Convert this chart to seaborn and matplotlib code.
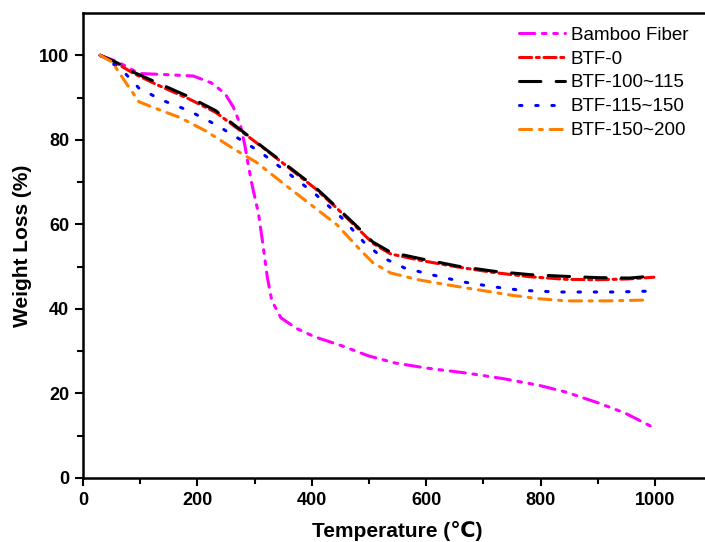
import numpy as np
import pandas as pd
import matplotlib
matplotlib.use("Agg")
import matplotlib.pyplot as plt
import seaborn as sns
from matplotlib import font_manager

# ---- data ----
bamboo_T = [30, 60, 98, 150, 193, 224, 248, 263, 275, 283, 287, 295, 307, 314, 322, 330, 346, 373, 405, 452, 499, 546, 601, 672, 735, 798, 845, 900, 947, 995]
bamboo_W = [100, 98.5, 95.7, 95.4, 95.1, 93.5, 91.0, 87.7, 83.6, 78.7, 75.5, 69.7, 62.4, 55.8, 47.7, 42.0, 37.9, 35.4, 33.4, 31.3, 28.9, 27.2, 26.0, 24.8, 23.5, 21.9, 20.3, 17.8, 15.4, 12.1]

btf0_T = [30, 60, 90, 130, 185, 232, 279, 318, 358, 405, 444, 476, 507, 538, 593, 656, 719, 782, 845, 900, 955, 998]
btf0_W = [100, 98.0, 95.6, 93.0, 89.7, 86.5, 81.8, 77.8, 73.6, 68.6, 63.8, 59.6, 55.5, 53.0, 51.4, 49.9, 48.6, 47.6, 47.0, 46.9, 47.1, 47.5]

btf100_T = [30, 60, 90, 130, 185, 232, 279, 318, 358, 405, 444, 476, 507, 538, 593, 656, 719, 782, 845, 900, 955, 998]
btf100_W = [100, 98.2, 95.9, 93.5, 90.2, 86.9, 82.0, 77.9, 73.8, 68.9, 64.0, 59.9, 55.8, 53.4, 51.8, 50.1, 48.9, 48.1, 47.7, 47.4, 47.3, 47.8]

btf115_T = [30, 67, 98, 138, 185, 232, 271, 310, 358, 405, 452, 491, 523, 562, 609, 664, 719, 767, 829, 877, 930, 987]
btf115_W = [100, 96.7, 92.2, 89.4, 86.9, 83.6, 80.4, 77.1, 72.2, 67.3, 61.6, 55.8, 52.2, 49.7, 48.1, 46.4, 45.2, 44.4, 44.0, 44.0, 44.0, 44.2]

btf150_T = [30, 51, 75, 98, 122, 169, 216, 263, 303, 350, 397, 444, 483, 507, 538, 586, 641, 696, 751, 798, 845, 916, 987]
btf150_W = [100, 98.4, 93.5, 89.0, 87.7, 85.3, 82.0, 77.9, 74.7, 69.7, 64.8, 59.9, 54.2, 50.9, 48.5, 46.9, 45.6, 44.4, 43.2, 42.4, 41.9, 41.9, 42.1]

labels = ["Bamboo Fiber", "BTF-0", "BTF-100~115", "BTF-115~150", "BTF-150~200"]
x_ticks = [0, 200, 400, 600, 800, 1000]
y_ticks = [0, 20, 40, 60, 80, 100]

series = [(bamboo_T, bamboo_W), (btf0_T, btf0_W), (btf100_T, btf100_W),
          (btf115_T, btf115_W), (btf150_T, btf150_W)]
colors = ["#ff00ff", "#ff0000", "#000000", "#0000ff", "#ff8000"]
styles = [(0, (5, 2.5, 1.2, 2.5, 1.2, 2.5)),
          (0, (4, 1.5, 1, 1.5)),
          (0, (7, 5)),
          (0, (0.8, 4.5)),
          (0, (4, 2.5, 1, 2.5))]

sns.set_style("ticks")
plt.rcParams['font.family'] = ['Liberation Sans', 'DejaVu Sans']
plt.rcParams.update({'text.color': 'black', 'axes.labelcolor': 'black',
                     'xtick.color': 'black', 'ytick.color': 'black',
                     'axes.edgecolor': 'black'})

names = {f.name for f in font_manager.fontManager.ttflist}
narrow = 'Liberation Sans Narrow' if 'Liberation Sans Narrow' in names else 'Liberation Sans'

fig = plt.figure(figsize=(7.05, 5.42), dpi=100)
W, H = 705, 542
x0, x1 = 83, 83 + 572 * 1.1
y0, y1 = 478, 478 - 4.227 * 110
ax = fig.add_axes([x0 / W, (H - y0) / H, (x1 - x0) / W, (y0 - y1) / H])

for (t, w), lab, c, ls in zip(series, labels, colors, styles):
    df = pd.DataFrame({"T": t, "W": w})
    sns.lineplot(data=df, x="T", y="W", ax=ax, color=c, label=lab,
                 linestyle=ls, linewidth=2.2, sort=False)
for ln in ax.lines:
    ln.set_dash_capstyle('round')

ax.set_xlim(0, 1100)
ax.set_ylim(0, 110)
ax.set_xticks(x_ticks)
ax.set_yticks(y_ticks)
ax.set_xticks(np.arange(100, 1100, 200), minor=True)
ax.set_yticks(np.arange(10, 110, 20), minor=True)

tick_font = dict(family=[narrow, 'Liberation Sans'], weight='bold',
                 size=15 if narrow != 'Liberation Sans' else 13)
ax.set_xticklabels([str(v) for v in x_ticks], fontdict=tick_font)
ax.set_yticklabels([str(v) for v in y_ticks], fontdict=tick_font)
ax.tick_params(which='major', direction='out', length=6, width=1.5, pad=4, colors='black')
ax.tick_params(which='minor', direction='out', length=4, width=1.5, colors='black')
for s in ['left', 'bottom', 'top']:
    ax.spines[s].set_linewidth(1.8)
    ax.spines[s].set_color('black')
ax.spines['right'].set_visible(False)

ax.set_xlabel("Temperature (℃)", fontsize=15, fontweight='bold', labelpad=9, color='black')
ax.set_ylabel("Weight Loss (%)", fontsize=15, fontweight='bold', labelpad=5, color='black')

leg = ax.legend(loc='upper right', bbox_to_anchor=(696 / W, 1 - 19 / H),
                bbox_transform=fig.transFigure, frameon=False, fontsize=13.5,
                handlelength=2.5, handletextpad=0.3, labelspacing=0.36,
                borderaxespad=0)
for txt in leg.get_texts():
    txt.set_color('black')

fig.savefig("out.png", dpi=100)
